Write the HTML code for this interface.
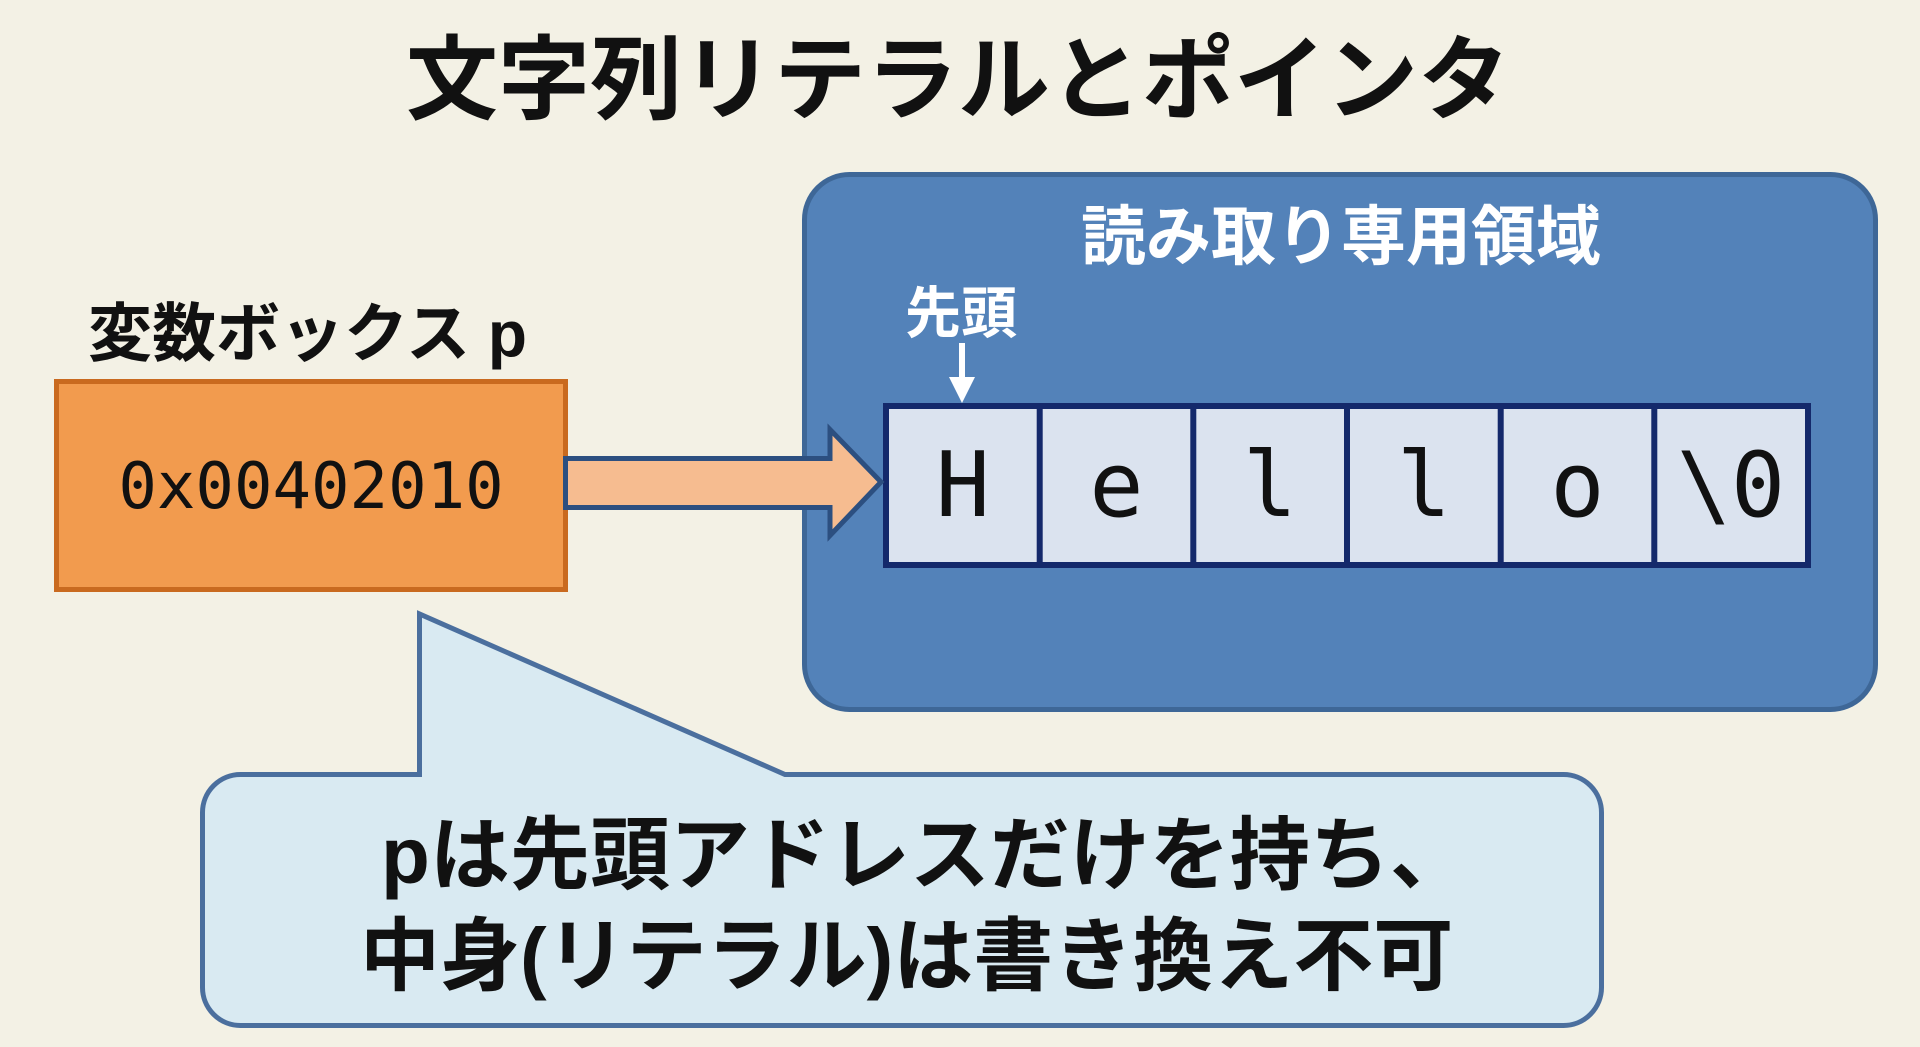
<!DOCTYPE html>
<html><head><meta charset="utf-8"><style>
html,body{margin:0;padding:0;background:#f3f1e5;}
svg{display:block;}
.jp{font-family:"Liberation Sans","Noto Sans CJK JP",sans-serif;font-weight:bold;}
.mono{font-family:"DejaVu Sans Mono","Liberation Mono",monospace;}
</style></head><body>
<svg width="1920" height="1047" viewBox="0 0 1920 1047" xmlns="http://www.w3.org/2000/svg">
<rect x="0" y="0" width="1920" height="1047" fill="#f3f1e5"/>
<!-- Title -->
<text class="jp" x="958" y="112" font-size="92" text-anchor="middle" fill="#111">文字列リテラルとポインタ</text>

<!-- Variable box label -->
<text class="jp" x="88" y="356" font-size="64" fill="#111">変数ボックス p</text>
<!-- Orange box -->
<rect x="56.5" y="381.5" width="509" height="208" fill="#f29b4e" stroke="#c96a1f" stroke-width="5"/>
<text class="mono" x="311" y="508" font-size="64" text-anchor="middle" fill="#111">0x00402010</text>

<!-- Blue region -->
<rect x="804.5" y="174.5" width="1071" height="535" rx="45" ry="45" fill="#5382b9" stroke="#3e6797" stroke-width="5"/>
<text class="jp" x="1341" y="259" font-size="65" text-anchor="middle" fill="#ffffff">読み取り専用領域</text>
<text class="jp" x="961" y="333" font-size="56" text-anchor="middle" fill="#ffffff">先頭</text>
<line x1="962" y1="343" x2="962" y2="380" stroke="#ffffff" stroke-width="6"/>
<polygon points="949,377 975,377 962,403" fill="#ffffff"/>

<!-- Cells -->
<rect x="886" y="406" width="922" height="159" fill="#dbe3ef" stroke="#14296b" stroke-width="6"/>
<g stroke="#14296b" stroke-width="6">
<line x1="1039.7" y1="406" x2="1039.7" y2="565"/>
<line x1="1193.3" y1="406" x2="1193.3" y2="565"/>
<line x1="1347" y1="406" x2="1347" y2="565"/>
<line x1="1500.7" y1="406" x2="1500.7" y2="565"/>
<line x1="1654.3" y1="406" x2="1654.3" y2="565"/>
</g>
<g class="mono" font-size="90" text-anchor="middle" fill="#111">
<text x="962.8" y="516">H</text>
<text x="1116.5" y="516">e</text>
<text x="1270" y="516">l</text>
<text x="1424" y="516">l</text>
<text x="1577.5" y="516">o</text>
<text x="1731" y="516">\0</text>
</g>

<!-- Arrow -->
<polygon points="565.5,458.5 830,458.5 830,429.5 881,482 830,535.5 830,507.5 565.5,507.5" fill="#f6bc90" stroke="#2c4f80" stroke-width="5" stroke-linejoin="miter"/>

<!-- Speech bubble -->
<path d="M 240.5,774.5 L 419.5,774.5 L 419.5,614 L 785,774.5 L 1563.5,774.5 A 38 38 0 0 1 1601.5,812.5 L 1601.5,987.5 A 38 38 0 0 1 1563.5,1025.5 L 240.5,1025.5 A 38 38 0 0 1 202.5,987.5 L 202.5,812.5 A 38 38 0 0 1 240.5,774.5 Z" fill="#d9eaf2" stroke="#4b6f9e" stroke-width="5" stroke-linejoin="miter"/>
<text class="jp" x="381" y="883" font-size="80" fill="#111">pは先頭アドレスだけを持ち、</text>
<text class="jp" x="360" y="984" font-size="80" fill="#111">中身(リテラル)は書き換え不可</text>
</svg>
</body></html>
